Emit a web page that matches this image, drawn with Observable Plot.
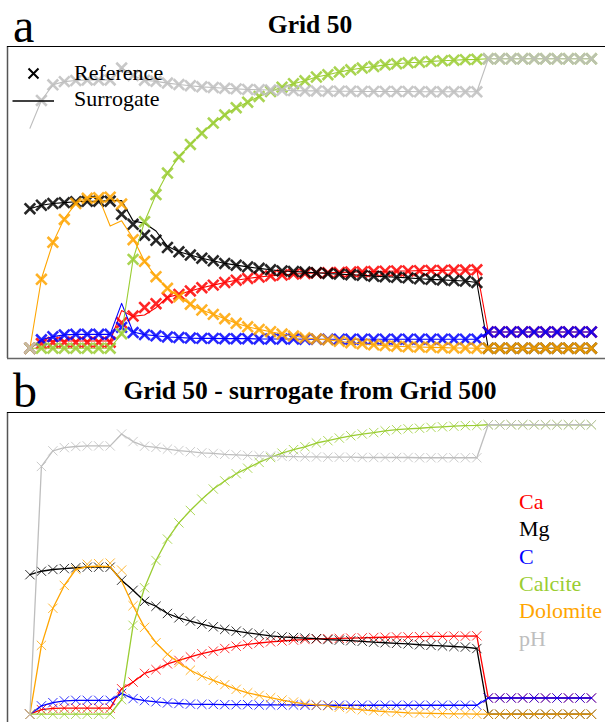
<!DOCTYPE html>
<html>
<head>
<meta charset="utf-8">
<script src="https://cdn.jsdelivr.net/npm/d3@7"></script>
<script src="https://cdn.jsdelivr.net/npm/@observablehq/plot@0.6"></script>
<style>
  html, body { margin: 0; padding: 0; background: #fff; }
  #page { position: relative; width: 605px; height: 722px; overflow: hidden; }
  .panel { position: absolute; left: 0; }
  #overlay { position: absolute; left: 0; top: 0; pointer-events: none; }
  text { font-family: "Liberation Serif", "Times New Roman", serif; }
</style>
</head>
<body>
<div id="page">
  <div class="panel" id="pa" style="top:0px"></div>
  <div class="panel" id="pb" style="top:366px"></div>
  <svg id="overlay" width="605" height="722"></svg>
</div>
<script>
// ---------- data (normalised values, 50 grid cells) ----------
const seriesNames  = ["Ca", "Mg", "C", "Calcite", "Dolomite", "pH"];
const seriesColors = ["#FF0000", "#000000", "#0000FF", "#9ACD32", "#FFA500", "#BEBEBE"];

// Reference (Grid 50) - shown as crosses in both panels
const caRef = [0, 0.016, 0.020, 0.021, 0.021, 0.021, 0.021, 0.021, 0.088, 0.111,
  0.141, 0.154, 0.174, 0.186, 0.198, 0.209, 0.218, 0.227, 0.235, 0.241,
  0.246, 0.250, 0.253, 0.256, 0.258, 0.260, 0.261, 0.262, 0.263, 0.264,
  0.265, 0.266, 0.267, 0.267, 0.268, 0.269, 0.269, 0.270, 0.270, 0.271,
  0.056, 0.056, 0.056, 0.056, 0.056, 0.056, 0.056, 0.056, 0.056, 0.056];
const mgRef = [0.482, 0.494, 0.500, 0.503, 0.506, 0.508, 0.508, 0.508, 0.463, 0.428,
  0.390, 0.373, 0.348, 0.333, 0.322, 0.311, 0.302, 0.293, 0.287, 0.281,
  0.276, 0.271, 0.267, 0.265, 0.263, 0.261, 0.258, 0.256, 0.254, 0.252,
  0.249, 0.247, 0.245, 0.243, 0.240, 0.238, 0.236, 0.234, 0.232, 0.227,
  0, 0, 0, 0, 0, 0, 0, 0, 0, 0];
const cRef = [0, 0.029, 0.040, 0.046, 0.048, 0.048, 0.048, 0.048, 0.072, 0.054,
  0.047, 0.043, 0.039, 0.037, 0.035, 0.034, 0.034, 0.033, 0.033, 0.033,
  0.032, 0.032, 0.032, 0.032, 0.031, 0.031, 0.031, 0.031, 0.031, 0.031,
  0.031, 0.031, 0.031, 0.031, 0.031, 0.031, 0.031, 0.031, 0.031, 0.031,
  0.056, 0.056, 0.056, 0.056, 0.056, 0.056, 0.056, 0.056, 0.056, 0.056];
const calciteRef = [0, 0, 0, 0, 0, 0, 0, 0, 0.050, 0.307,
  0.437, 0.531, 0.605, 0.661, 0.704, 0.743, 0.778, 0.806, 0.831, 0.850,
  0.870, 0.887, 0.902, 0.914, 0.924, 0.937, 0.945, 0.954, 0.962, 0.968,
  0.973, 0.979, 0.983, 0.986, 0.988, 0.991, 0.993, 0.995, 0.997, 0.998,
  1, 1, 1, 1, 1, 1, 1, 1, 1, 1];
const dolomiteRef = [0, 0.238, 0.366, 0.445, 0.500, 0.518, 0.520, 0.522, 0.498, 0.375,
  0.300, 0.247, 0.207, 0.178, 0.152, 0.132, 0.117, 0.102, 0.086, 0.074,
  0.065, 0.057, 0.049, 0.042, 0.036, 0.032, 0.029, 0.024, 0.019, 0.015,
  0.012, 0.009, 0.007, 0.005, 0.004, 0.003, 0.002, 0.001, 0.001, 0,
  0, 0, 0, 0, 0, 0, 0, 0, 0, 0];
const phRef = [0, 0.856, 0.910, 0.921, 0.925, 0.927, 0.927, 0.927, 0.968, 0.942,
  0.926, 0.922, 0.916, 0.911, 0.907, 0.903, 0.901, 0.898, 0.896, 0.894,
  0.893, 0.892, 0.891, 0.890, 0.889, 0.889, 0.888, 0.888, 0.888, 0.887,
  0.887, 0.887, 0.887, 0.887, 0.886, 0.886, 0.886, 0.886, 0.886, 0.886,
  1, 1, 1, 1, 1, 1, 1, 1, 1, 1];

// Surrogate, panel a (Grid 50)
const caSurA = [0, 0.025, 0.025, 0.025, 0.025, 0.025, 0.025, 0.025, 0.130, 0.110,
  0.115, 0.140, 0.176, 0.186, 0.198, 0.209, 0.218, 0.227, 0.235, 0.241,
  0.246, 0.250, 0.253, 0.256, 0.258, 0.260, 0.261, 0.262, 0.263, 0.264,
  0.265, 0.266, 0.267, 0.267, 0.268, 0.269, 0.269, 0.270, 0.270, 0.271,
  0.056, 0.056, 0.056, 0.056, 0.056, 0.056, 0.056, 0.056, 0.056, 0.056];
const mgSurA = [0.482, 0.494, 0.500, 0.503, 0.506, 0.508, 0.508, 0.510, 0.510, 0.440,
  0.432, 0.405, 0.352, 0.333, 0.322, 0.311, 0.302, 0.293, 0.287, 0.281,
  0.276, 0.271, 0.267, 0.265, 0.263, 0.261, 0.258, 0.256, 0.254, 0.252,
  0.249, 0.247, 0.245, 0.243, 0.240, 0.238, 0.236, 0.234, 0.232, 0.227,
  0, 0, 0, 0, 0, 0, 0, 0, 0, 0];
const cSurA = [0, 0.029, 0.040, 0.046, 0.048, 0.048, 0.048, 0.048, 0.155, 0.056,
  0.047, 0.043, 0.039, 0.037, 0.035, 0.034, 0.034, 0.033, 0.033, 0.033,
  0.032, 0.032, 0.032, 0.032, 0.031, 0.031, 0.031, 0.031, 0.031, 0.031,
  0.031, 0.031, 0.031, 0.031, 0.031, 0.031, 0.031, 0.031, 0.031, 0.031,
  0.056, 0.056, 0.056, 0.056, 0.056, 0.056, 0.056, 0.056, 0.056, 0.056];
const calciteSurA = calciteRef;
const dolomiteSurA = [0, 0.240, 0.364, 0.448, 0.500, 0.521, 0.521, 0.422, 0.440, 0.380,
  0.300, 0.247, 0.207, 0.178, 0.152, 0.132, 0.117, 0.102, 0.086, 0.074,
  0.065, 0.057, 0.049, 0.042, 0.036, 0.032, 0.029, 0.024, 0.019, 0.015,
  0.012, 0.009, 0.007, 0.005, 0.004, 0.003, 0.002, 0.001, 0.001, 0,
  0, 0, 0, 0, 0, 0, 0, 0, 0, 0];
const phSurA = [0.760, 0.856, 0.910, 0.921, 0.925, 0.927, 0.927, 0.927, 0.968, 0.942,
  0.926, 0.922, 0.916, 0.911, 0.907, 0.903, 0.901, 0.898, 0.896, 0.894,
  0.893, 0.892, 0.891, 0.890, 0.889, 0.889, 0.888, 0.888, 0.888, 0.887,
  0.887, 0.887, 0.887, 0.887, 0.886, 0.886, 0.886, 0.886, 0.886, 0.886,
  1, 1, 1, 1, 1, 1, 1, 1, 1, 1];

// Surrogate, panel b (from Grid 500)
const caSurB = caRef;
const mgSurB = mgRef;
const cSurB = cRef;
const calciteSurB = calciteRef;
const dolomiteSurB = [0, 0.238, 0.366, 0.445, 0.500, 0.510, 0.512, 0.510, 0.460, 0.375,
  0.300, 0.247, 0.207, 0.178, 0.152, 0.132, 0.117, 0.102, 0.086, 0.074,
  0.065, 0.057, 0.049, 0.042, 0.036, 0.032, 0.029, 0.024, 0.019, 0.015,
  0.012, 0.009, 0.007, 0.005, 0.004, 0.003, 0.002, 0.001, 0.001, 0,
  0, 0, 0, 0, 0, 0, 0, 0, 0, 0];
const phSurB = phRef;

const refSets  = [caRef, mgRef, cRef, calciteRef, dolomiteRef, phRef];
const surSetsA = [caSurA, mgSurA, cSurA, calciteSurA, dolomiteSurA, phSurA];
const surSetsB = [caSurB, mgSurB, cSurB, calciteSurB, dolomiteSurB, phSurB];

function rows(surSets) {
  const out = [];
  seriesNames.forEach((s, k) => {
    refSets[k].forEach((v, i) => out.push({series: s, i, ref: v, sur: surSets[k][i]}));
  });
  return out;
}

function panel(surSets, opts) {
  const data = rows(surSets);
  const marks = [];
  seriesNames.forEach(s => {
    const d = data.filter(r => r.series === s);
    marks.push(Plot.dot(d, {x: "i", y: "ref", stroke: "series", symbol: "times",
      r: opts.r, strokeWidth: opts.dotWidth, strokeOpacity: opts.dotOpacity}));
    marks.push(Plot.line(d, {x: "i", y: "sur", stroke: "series", strokeWidth: opts.lineWidth}));
  });
  const xDom = [-1.96, 50.23], yDom = [-0.0355, 1.0424];
  marks.push(Plot.ruleX([xDom[0]], {stroke: "#555", strokeWidth: 1.5}));
  marks.push(Plot.ruleY([yDom[1]], {stroke: "#000", strokeWidth: 1.2}));
  marks.push(Plot.ruleY([yDom[0]], {stroke: "#666", strokeWidth: 1.5}));
  return Plot.plot({
    width: 605, height: 360,
    marginTop: 46, marginBottom: 2, marginLeft: 7, marginRight: 0,
    x: {domain: xDom, axis: null},
    y: {domain: yDom, axis: null},
    color: {domain: seriesNames, range: seriesColors},
    style: {background: "transparent", overflow: "visible"},
    marks
  });
}

document.getElementById("pa").appendChild(panel(surSetsA, {r: 4.9, dotWidth: 2.6, dotOpacity: 0.85, lineWidth: 1.1}));
document.getElementById("pb").appendChild(panel(surSetsB, {r: 4.3, dotWidth: 1, dotOpacity: 0.8, lineWidth: 1.3}));

// ---------- titles, labels and legends ----------
const ov = d3.select("#overlay");
const panelLabels = [{t: "a", y: 42}, {t: "b", y: 407}];
panelLabels.forEach(p => ov.append("text").attr("x", 13).attr("y", p.y)
  .attr("font-size", 48).text(p.t));
const titles = [{t: "Grid 50", y: 33}, {t: "Grid 50 - surrogate from Grid 500", y: 399}];
titles.forEach(p => ov.append("text").attr("x", 310).attr("y", p.y)
  .attr("text-anchor", "middle").attr("font-weight", "bold").attr("font-size", 25.5).text(p.t));

// legend panel a
const legA = ["Reference", "Surrogate"];
ov.append("path").attr("d", "M28.5,68.5L38.5,78.5M38.5,68.5L28.5,78.5")
  .attr("stroke", "#000").attr("stroke-width", 2);
ov.append("line").attr("x1", 12.5).attr("x2", 54).attr("y1", 101).attr("y2", 101)
  .attr("stroke", "#000").attr("stroke-width", 1.5);
legA.forEach((t, k) => ov.append("text").attr("x", 74).attr("y", 80 + 26 * k)
  .attr("font-size", 22).text(t));

// legend panel b
seriesNames.forEach((s, k) => ov.append("text").attr("x", 519).attr("y", 509 + 27.3 * k)
  .attr("font-size", 22).attr("fill", seriesColors[k]).text(s));
</script>
</body>
</html>
